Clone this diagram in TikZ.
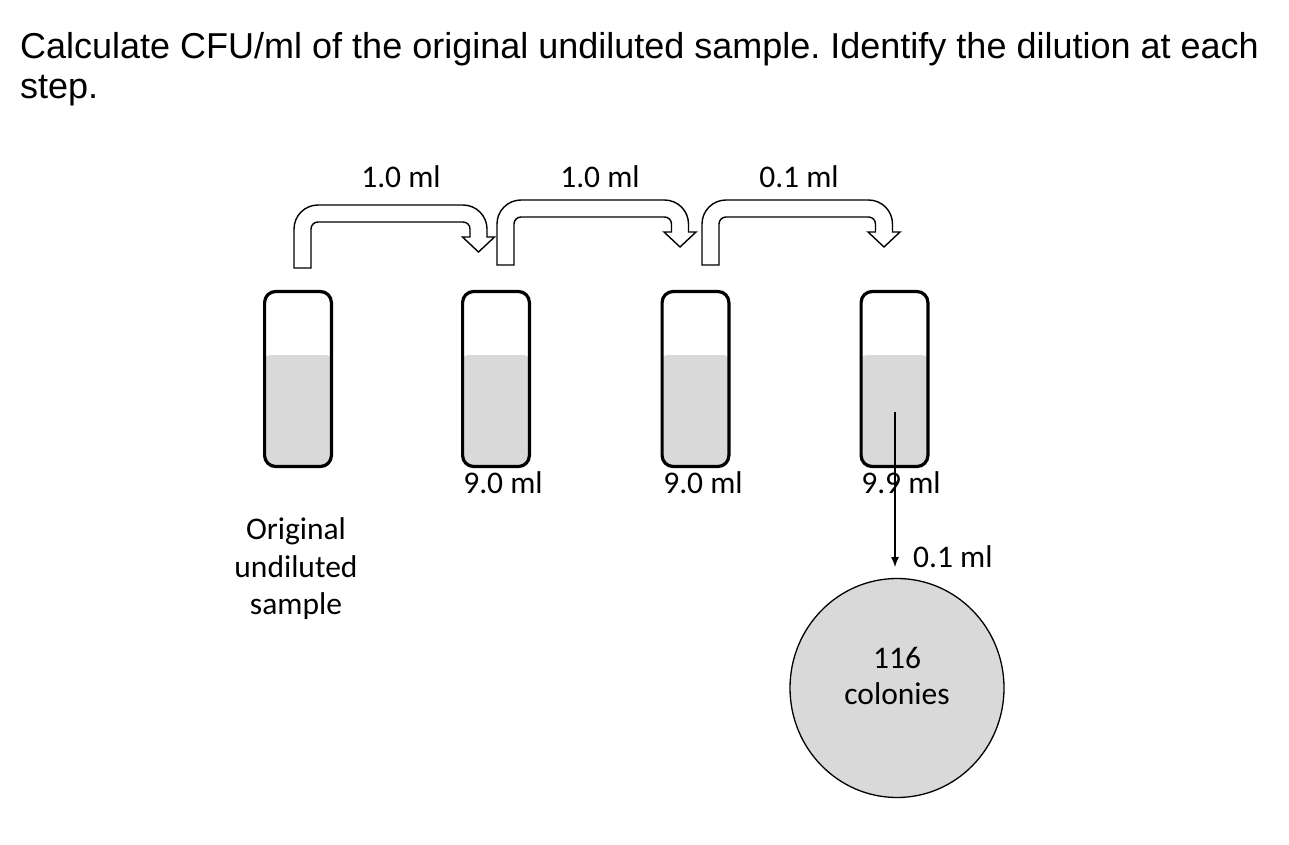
\documentclass[tikz,border=0pt]{standalone}
\usepackage{fontspec}
\setmainfont{Carlito}
\newfontfamily\titlefont{Liberation Sans}
\usetikzlibrary{arrows.meta,shapes.geometric}
\frenchspacing

\begin{document}
\begin{tikzpicture}[x=1pt,y=1pt,
    tube/.style={draw,line width=3.2pt,rounded corners=11pt,
      minimum width=66.8pt,minimum height=175pt,inner sep=0pt,
      path picture={\fill[black!15,rounded corners=5pt]
        (path picture bounding box.south west) rectangle
        ([yshift=24pt]path picture bounding box.east);}},
    transfer/.style={draw,fill=white,line width=1.4pt,line join=miter},
    plate/.style={ellipse,draw,fill=black!15,line width=1.3pt,
      minimum width=214pt,minimum height=219pt},
    lbl/.style={font=\fontsize{31.5}{37.5}\selectfont,inner sep=0pt}]
  \useasboundingbox (0,0) rectangle (1289,-845);
  \node[anchor=north west,inner sep=0pt,align=left,
    font=\titlefont\fontsize{36}{40}\selectfont] (title) at (20,-32)
    {Calculate CFU/ml of the original undiluted sample. Identify the dilution at each\\step.};

  % tubes
  \draw
    (298,-379) node[tube] (0){}
    (496,-379) node[tube] (1){}
    (695.5,-379) node[tube] (2){}
    (894.5,-379) node[tube] (3){};

  % transfers between tubes
  \foreach \xa/\xb/\yt/\yb in {294/478.5/205/268,497/680/200/265,702/884/200/265}
    \draw[transfer] (\xa,-\yb) -- (\xa,-\yt-24) arc[start angle=180,end angle=90,radius=24]
      -- (\xb-15.5,-\yt) arc[start angle=90,end angle=0,radius=24]
      -- (\xb+8.5,-\yt-32) -- (\xb+16,-\yt-32) -- (\xb,-\yt-47)
      -- (\xb-16,-\yt-32) -- (\xb-8.5,-\yt-32)
      -- (\xb-8.5,-\yt-24) arc[start angle=0,end angle=90,radius=7]
      -- (\xa+24,-\yt-17) arc[start angle=90,end angle=180,radius=7]
      -- (\xa+17,-\yb) -- cycle;

  \node[lbl,anchor=base] (v01) at (401,-187) {1.0 ml};
  \node[lbl,anchor=base] (v12) at (600,-187) {1.0 ml};
  \node[lbl,anchor=base] (v23) at (799,-187) {0.1 ml};

  \node[lbl,anchor=base] (b1) at (503,-493) {9.0 ml};
  \node[lbl,anchor=base] (b2) at (703,-493) {9.0 ml};
  \node[lbl,anchor=base] (b3) at (901,-493) {9.9 ml};

  \node[lbl,align=center] (orig) at (296,-569) {Original\\undiluted\\sample};

  % plating
  \node[plate] (p) at (897,-688) {};
  \node[lbl,align=center,font=\fontsize{31.5}{36}\selectfont] (count)
    at ([yshift=12pt]p.center) {116\\colonies};
  \coordinate (d) at (895,-412);
  \draw[line width=1.3pt,-{Latex[length=10pt,width=8pt]}] (d) -- (895,-567);
  \node[lbl,anchor=base west] (v3p) at (913,-567) {0.1 ml};
\end{tikzpicture}
\end{document}
